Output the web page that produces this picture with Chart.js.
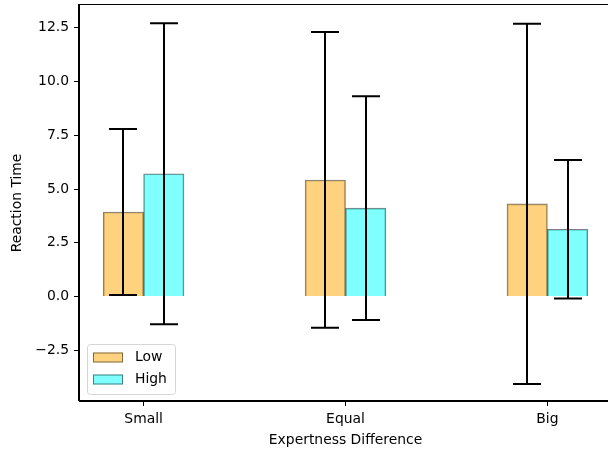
<!DOCTYPE html>
<html>
<head>
<meta charset="utf-8">
<script src="https://cdn.jsdelivr.net/npm/chart.js@4/dist/chart.umd.min.js"></script>
<style>
  html, body { margin: 0; padding: 0; background: #fff; overflow: hidden; }
  #wrap { width: 608px; height: 455px; overflow: hidden; }
  canvas { display: block; }
</style>
</head>
<body>
<div id="wrap"><canvas id="c" width="614" height="455"></canvas></div>
<script>
// Mean reaction time per expertness difference, with spread shown as error bars
const categories = ['Small', 'Equal', 'Big'];
const lowMeans  = [3.93, 5.42, 4.31];
const lowErr    = [3.86, 6.87, 8.37];
const highMeans = [5.71, 4.11, 3.13];
const highErr   = [6.99, 5.20, 3.22];
const yTicks = [-2.5, 0, 2.5, 5, 7.5, 10, 12.5];

const BAR_W = 0.2;
const FONT = { family: 'DejaVu Sans', size: 13.9 };

function points(means, shift) {
  return means.map((v, i) => ({ x: i + shift, y: v }));
}

// Vertical error bars with caps, drawn over the bars
const errorBars = {
  id: 'errorBars',
  afterDatasetsDraw(chart) {
    const ctx = chart.ctx;
    const ys = chart.scales.y;
    ctx.save();
    ctx.strokeStyle = '#000';
    ctx.lineWidth = 2;
    chart.data.datasets.forEach((ds, di) => {
      const meta = chart.getDatasetMeta(di);
      ds.errors.forEach((e, i) => {
        const el = meta.data[i];
        const x = Math.round(el.x);
        const top = ys.getPixelForValue(ds.data[i].y + e);
        const bot = ys.getPixelForValue(ds.data[i].y - e);
        ctx.beginPath();
        ctx.moveTo(x, top); ctx.lineTo(x, bot);
        ctx.moveTo(x - 14, top); ctx.lineTo(x + 14, top);
        ctx.moveTo(x - 14, bot); ctx.lineTo(x + 14, bot);
        ctx.stroke();
      });
    });
    ctx.restore();
  }
};

// Box around the plotting area and legend in the lower-left corner
const frameAndLegend = {
  id: 'frameAndLegend',
  afterDraw(chart) {
    const ctx = chart.ctx;
    const a = chart.chartArea;
    ctx.save();
    ctx.strokeStyle = '#000';
    ctx.lineWidth = 1;
    ctx.strokeRect(Math.round(a.left) - 0.5, Math.round(a.top) - 0.5,
                   Math.round(a.right - a.left) + 1, Math.round(a.bottom - a.top));

    // legend
    const lx = a.left + 8, ly = a.bottom - 57, lw = 88, lh = 50;
    ctx.beginPath();
    ctx.roundRect(lx + 0.5, ly + 0.5, lw, lh, 3);
    ctx.fillStyle = 'rgba(255,255,255,0.8)';
    ctx.fill();
    ctx.strokeStyle = '#d6d6d6';
    ctx.stroke();
    ctx.font = '13.9px "DejaVu Sans"';
    ctx.textBaseline = 'middle';
    chart.data.datasets.forEach((ds, i) => {
      const cy = ly + 13.5 + i * 22;
      ctx.fillStyle = '#fff';
      ctx.fillRect(lx + 6, cy - 5, 30, 10);
      ctx.fillStyle = ds.backgroundColor;
      ctx.fillRect(lx + 6, cy - 5, 30, 10);
      ctx.strokeStyle = ds.borderColor;
      ctx.strokeRect(lx + 6.5, cy - 4.5, 29, 9);
      ctx.fillStyle = '#000';
      ctx.fillText(ds.label, lx + 48, cy);
    });
    ctx.restore();
  }
};

function noPad(s) {
  s.paddingTop = 0; s.paddingBottom = 0; s.paddingLeft = 0; s.paddingRight = 0;
}

new Chart(document.getElementById('c'), {
  type: 'bar',
  data: {
    datasets: [
      {
        label: 'Low',
        data: points(lowMeans, -BAR_W / 2),
        errors: lowErr,
        backgroundColor: 'rgba(255,165,0,0.5)',
        borderColor: 'rgba(0,0,0,0.5)',
        borderWidth: 1,
        grouped: false,
        barPercentage: 1,
        categoryPercentage: 1
      },
      {
        label: 'High',
        data: points(highMeans, BAR_W / 2),
        errors: highErr,
        backgroundColor: 'rgba(0,255,255,0.5)',
        borderColor: 'rgba(0,0,0,0.5)',
        borderWidth: 1,
        grouped: false,
        barPercentage: 1,
        categoryPercentage: 1
      }
    ]
  },
  options: {
    responsive: false,
    animation: false,
    layout: { padding: { top: 5, right: 2, left: 0, bottom: 0 } },
    plugins: { legend: { display: false }, tooltip: { enabled: false } },
    scales: {
      x: {
        type: 'linear',
        offset: false,
        min: -0.32,
        max: 2.32,
        afterBuildTicks(s) { s.ticks = categories.map((_, i) => ({ value: i })); },
        afterFit(s) { s.height = 54; noPad(s); },
        ticks: {
          color: '#000',
          font: FONT,
          padding: 5,
          maxRotation: 0,
          callback: v => categories[v]
        },
        grid: { offset: false, drawOnChartArea: false, drawTicks: true, tickLength: 5, tickColor: '#000', tickWidth: 1 },
        border: { display: true, color: '#000', width: 1 },
        title: { display: true, text: 'Expertness Difference', color: '#000', font: FONT, padding: { top: 0, bottom: 6 } }
      },
      y: {
        min: -4.85,
        max: 13.55,
        afterBuildTicks(s) { s.ticks = yTicks.map(v => ({ value: v })); },
        afterFit(s) { s.width = 79; noPad(s); },
        ticks: {
          color: '#000',
          font: FONT,
          padding: 5,
          callback: v => v.toFixed(1).replace('-', '\u2212')
        },
        grid: { drawOnChartArea: false, drawTicks: true, tickLength: 5, tickColor: '#000', tickWidth: 1 },
        border: { display: true, color: '#000', width: 1 },
        title: { display: true, text: 'Reaction Time', color: '#000', font: FONT, padding: { top: 9, bottom: 0 } }
      }
    }
  },
  plugins: [errorBars, frameAndLegend]
});
</script>
</body>
</html>
